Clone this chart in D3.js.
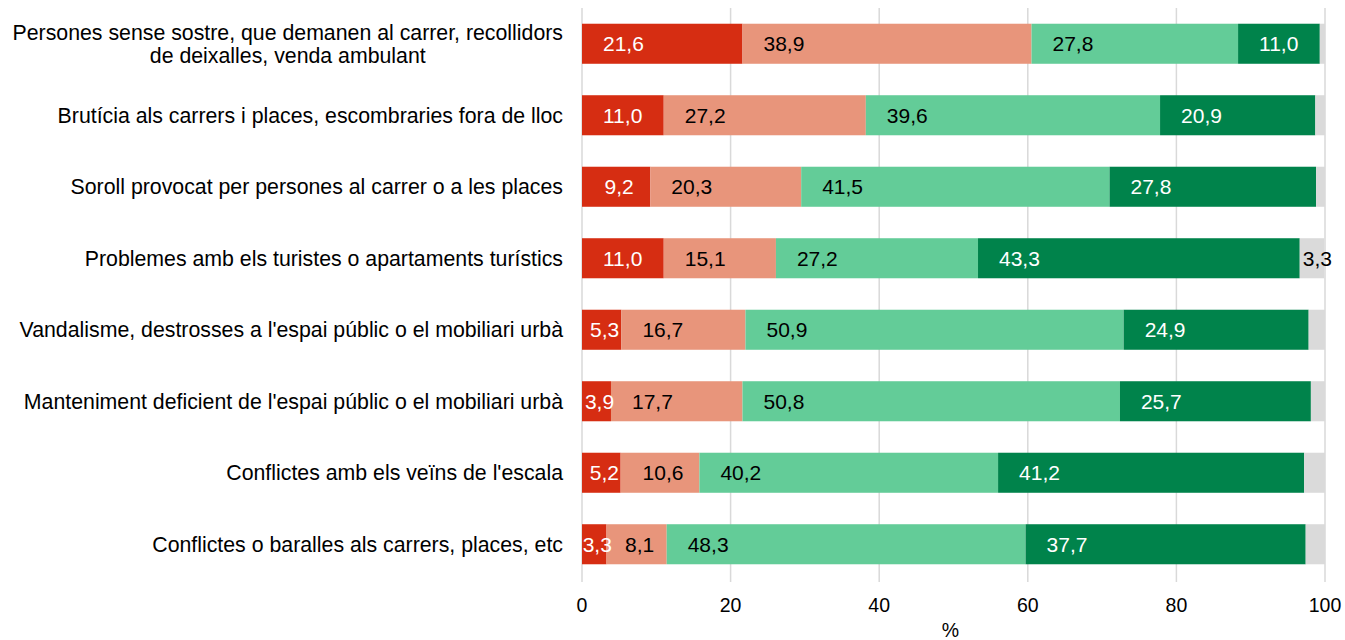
<!DOCTYPE html>
<html>
<head>
<meta charset="utf-8">
<script src="https://cdn.jsdelivr.net/npm/d3@7"></script>
<style>
  html, body { margin: 0; padding: 0; background: #fff; }
  svg { display: block; font-family: "Liberation Sans", Arial, sans-serif; }
</style>
</head>
<body>
<svg id="chart" width="1345" height="640"></svg>
<script>
// Categories (top to bottom); the first one wraps onto two lines
const categories = [
  ["Persones sense sostre, que demanen al carrer, recollidors", "de deixalles, venda ambulant"],
  ["Brutícia als carrers i places, escombraries fora de lloc"],
  ["Soroll provocat per persones al carrer o a les places"],
  ["Problemes amb els turistes o apartaments turístics"],
  ["Vandalisme, destrosses a l'espai públic o el mobiliari urbà"],
  ["Manteniment deficient de l'espai públic o el mobiliari urbà"],
  ["Conflictes amb els veïns de l'escala"],
  ["Conflictes o baralles als carrers, places, etc"]
];

// Percentages for each response level, one array per stacked segment
const serie1 = [21.6, 11.0, 9.2, 11.0, 5.3, 3.9, 5.2, 3.3];
const serie2 = [38.9, 27.2, 20.3, 15.1, 16.7, 17.7, 10.6, 8.1];
const serie3 = [27.8, 39.6, 41.5, 27.2, 50.9, 50.8, 40.2, 48.3];
const serie4 = [11.0, 20.9, 27.8, 43.3, 24.9, 25.7, 41.2, 37.7];
const serie5 = [0.7, 1.3, 1.2, 3.3, 2.2, 1.9, 2.8, 2.6];

const xTicks = [0, 20, 40, 60, 80, 100];
const xTitle = "%";

const seriesList = [serie1, serie2, serie3, serie4, serie5];
const fills = ["#D62D12", "#E8957B", "#63CC98", "#00834B", "#DADADA"];
const labelColors = ["#ffffff", "#000000", "#000000", "#ffffff", "#000000"];

const svg = d3.select("#chart");
const margin = { left: 582, right: 20, top: 8, bottom: 60 };
const W = 1345, H = 640;

const x = d3.scaleLinear().domain([0, 100]).range([margin.left, W - margin.right]);
const y = d3.scaleBand()
  .domain(d3.range(categories.length))
  .range([margin.top, H - margin.bottom])
  .paddingInner(0.44)
  .paddingOuter(0.22);

// Vertical gridlines
svg.append("g")
  .selectAll("line")
  .data(xTicks)
  .join("line")
  .attr("x1", d => x(d)).attr("x2", d => x(d))
  .attr("y1", margin.top).attr("y2", H - margin.bottom + 2)
  .attr("stroke", "#D9D9D9")
  .attr("stroke-width", 1.5);

// Stack the segments
const rows = categories.map((c, i) => {
  const o = { i };
  seriesList.forEach((s, k) => o["s" + k] = s[i]);
  return o;
});
const stack = d3.stack().keys(seriesList.map((s, k) => "s" + k));
const layers = stack(rows);

const gBars = svg.append("g");
layers.forEach((layer, k) => {
  gBars.append("g")
    .selectAll("rect")
    .data(layer)
    .join("rect")
    .attr("x", d => x(d[0]))
    .attr("y", (d, i) => y(i))
    .attr("width", d => x(d[1]) - x(d[0]))
    .attr("height", y.bandwidth())
    .attr("fill", fills[k]);
});

// Value labels
const fmt = v => v.toFixed(1).replace(".", ",");
const gLabels = svg.append("g").attr("font-size", 21);
layers.forEach((layer, k) => {
  layer.forEach((d, i) => {
    const v = d[1] - d[0];
    if (v < 3) return;
    const t = gLabels.append("text")
      .attr("y", y(i) + y.bandwidth() / 2)
      .attr("dy", "0.36em")
      .attr("fill", labelColors[k])
      .text(fmt(v));
    const tw = t.node().getComputedTextLength();
    const x0 = x(d[0]), segW = x(d[1]) - x(d[0]);
    let tx;
    if (k === seriesList.length - 1) tx = x0 + 3;
    else if (segW >= tw + 42) tx = x0 + 21;
    else tx = x0 + (segW - tw) / 2 + 3;
    t.attr("x", tx);
  });
});

// Category labels, right aligned; wrapped lines centred within their block
const gCats = svg.append("g").attr("font-size", 21.3).attr("fill", "#000");
categories.forEach((lines, i) => {
  const cy = y(i) + y.bandwidth() / 2;
  const lh = 23;
  const g = gCats.append("g");
  const texts = lines.map((ln, j) => g.append("text")
    .attr("y", cy + (j - (lines.length - 1) / 2) * lh)
    .attr("dy", "0.35em")
    .text(ln));
  const widths = texts.map(t => t.node().getComputedTextLength());
  const maxW = d3.max(widths);
  const right = margin.left - 19;
  const centre = right - maxW / 2;
  texts.forEach(t => t.attr("x", centre).attr("text-anchor", "middle"));
});

// X axis tick labels
svg.append("g")
  .attr("font-size", 19.5)
  .selectAll("text")
  .data(xTicks)
  .join("text")
  .attr("x", d => x(d))
  .attr("y", 605)
  .attr("dy", "0.35em")
  .attr("text-anchor", "middle")
  .text(d => d);

svg.append("text")
  .attr("x", (x(0) + x(100)) / 2 - 3)
  .attr("y", 630)
  .attr("dy", "0.35em")
  .attr("text-anchor", "middle")
  .attr("font-size", 19.5)
  .text(xTitle);
</script>
</body>
</html>
